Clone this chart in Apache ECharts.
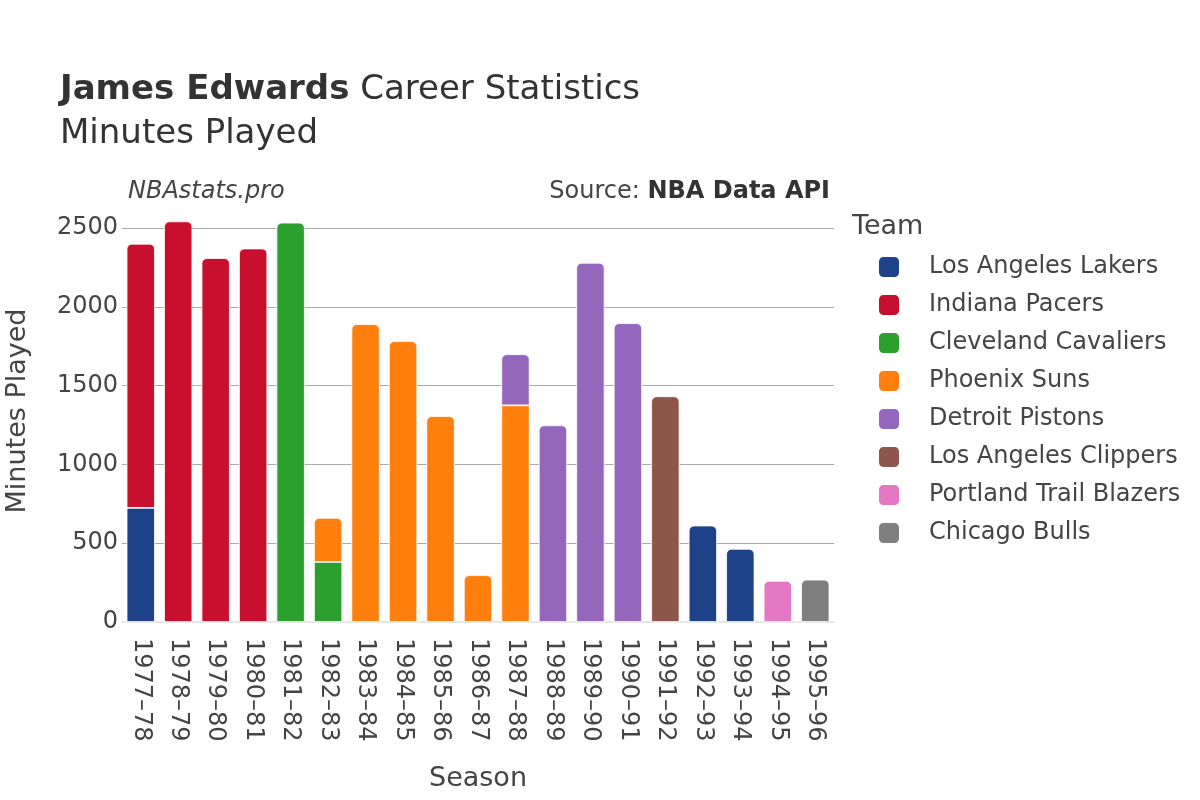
<!DOCTYPE html>
<html>
<head>
<meta charset="utf-8">
<script src="https://cdn.jsdelivr.net/npm/echarts@6/dist/echarts.min.js"></script>
<style>
html,body{margin:0;padding:0;background:#fff;}
#chart{width:1200px;height:800px;}
</style>
</head>
<body>
<div id="chart"></div>
<script>
const seasons = ['1977–78','1978–79','1979–80','1980–81','1981–82','1982–83','1983–84','1984–85','1985–86','1986–87','1987–88','1988–89','1989–90','1990–91','1991–92','1992–93','1993–94','1994–95','1995–96'];
const teams = ['Los Angeles Lakers','Indiana Pacers','Cleveland Cavaliers','Phoenix Suns','Detroit Pistons','Los Angeles Clippers','Portland Trail Blazers','Chicago Bulls'];
const teamColors = ['#1d428a','#c8102e','#2ca02c','#ff7f0e','#9467bd','#8c564b','#e377c2','#7f7f7f'];
const lakers   = [724,null,null,null,null,null,null,null,null,null,null,null,null,null,null,612,464,null,null];
const pacers   = [1676,2542,2309,2370,null,null,null,null,null,null,null,null,null,null,null,null,null,null,null];
const cavs     = [null,null,null,null,2534,381,null,null,null,null,null,null,null,null,null,null,null,null,null];
const suns     = [null,null,null,null,null,280,1890,1782,1307,297,1375,null,null,null,null,null,null,null,null];
const pistons  = [null,null,null,null,null,null,null,null,null,null,324,1248,2279,1896,null,null,null,null,null];
const clippers = [null,null,null,null,null,null,null,null,null,null,null,null,null,null,1432,null,null,null,null];
const blazers  = [null,null,null,null,null,null,null,null,null,null,null,null,null,null,null,null,null,261,null];
const bulls    = [null,null,null,null,null,null,null,null,null,null,null,null,null,null,null,null,null,null,269];
const yTicks = [0,500,1000,1500,2000,2500];

const allData = [lakers,pacers,cavs,suns,pistons,clippers,blazers,bulls];
const FONT = 'DejaVu Sans';

const series = allData.map((arr, si) => ({
  name: teams[si],
  type: 'bar',
  stack: 'total',
  clip: false,
  barCategoryGap: '24.5%',
  itemStyle: { color: teamColors[si], borderColor: '#fff', borderWidth: 0.8 },
  data: arr.map((v, i) => {
    if (v == null) return null;
    let top = true;
    for (let k = si + 1; k < allData.length; k++) if (allData[k][i] != null) top = false;
    return { value: v, itemStyle: { borderRadius: top ? [5,5,0,0] : 0 } };
  })
}));

const chart = echarts.init(document.getElementById('chart'), null, {renderer:'canvas'});
chart.setOption({
  animation: false,
  backgroundColor: '#fff',
  textStyle: { fontFamily: FONT },
  grid: { left: 122, right: 366, top: 228, bottom: 178, containLabel: false },
  xAxis: {
    type: 'category',
    data: seasons,
    axisLine: { show: true, lineStyle: { color: '#e8e8e8', width: 2 } },
    axisTick: { show: false },
    axisLabel: { rotate: -90, fontSize: 24, color: '#444', margin: 16, fontFamily: FONT }
  },
  yAxis: {
    type: 'value',
    min: yTicks[0],
    max: yTicks[yTicks.length - 1],
    interval: 500,
    axisLine: { show: false },
    axisTick: { show: false },
    axisLabel: { fontSize: 24, color: '#444', margin: 4, fontFamily: FONT, formatter: v => String(v), padding: [3,0,0,0] },
    splitLine: { lineStyle: { color: '#aaaaaa', width: 1 } }
  },
  legend: {
    orient: 'vertical',
    left: 877,
    top: 255,
    padding: 0,
    icon: 'roundRect',
    itemWidth: 22,
    itemHeight: 22,
    itemGap: 14,
    data: teams,
    textStyle: { fontSize: 24, color: '#444', fontFamily: FONT, padding: [0,0,0,24], lineHeight: 24 }
  },
  graphic: [
    { type: 'text', left: 60, top: 73, style: { text: '{b|James Edwards}{n| Career Statistics}', rich: {
        b: { fontSize: 34, fontWeight: 'bold', fill: '#333', fontFamily: FONT },
        n: { fontSize: 34, fill: '#333', fontFamily: FONT } } } },
    { type: 'text', x: 60, y: 134, style: { text: 'Minutes Played', fontSize: 34, fill: '#333', fontFamily: FONT, verticalAlign: 'middle' } },
    { type: 'text', x: 128, y: 192, style: { text: 'NBAstats.pro', fontSize: 24, fontStyle: 'italic', fill: '#444', fontFamily: FONT, verticalAlign: 'middle' } },
    { type: 'text', x: 830, y: 192, style: { text: 'Source: {b|NBA Data API}', rich: { b: { fontWeight: 'bold', fontSize: 24, fill: '#333', fontFamily: FONT } }, fontSize: 24, fill: '#444', fontFamily: FONT, align: 'right', verticalAlign: 'middle' } },
    { type: 'text', x: 852, y: 227, style: { text: 'Team', fontSize: 27, fill: '#444', fontFamily: FONT, verticalAlign: 'middle' } },
    { type: 'text', x: 478, y: 779, style: { text: 'Season', fontSize: 27, fill: '#444', fontFamily: FONT, align: 'center', verticalAlign: 'middle' } },
    { type: 'text', x: 18, y: 411, rotation: Math.PI / 2, style: { text: 'Minutes Played', fontSize: 27, fill: '#444', fontFamily: FONT, align: 'center', verticalAlign: 'middle' } }
  ],
  series: series
});
</script>
</body>
</html>
